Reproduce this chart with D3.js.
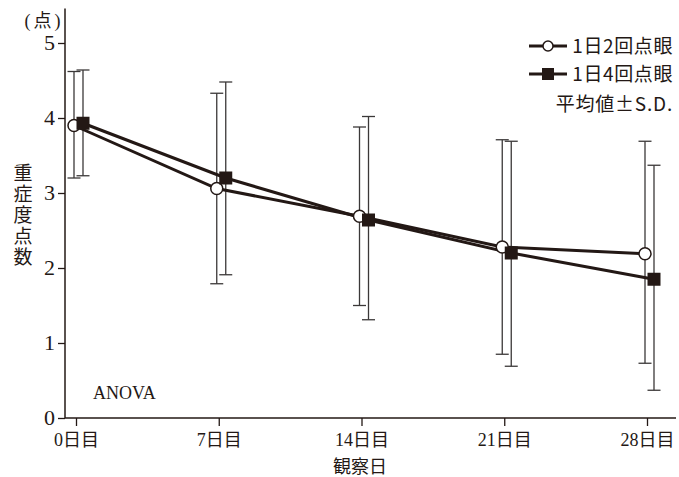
<!DOCTYPE html>
<html><head><meta charset="utf-8">
<script src="https://cdn.jsdelivr.net/npm/d3@7"></script>
<style>
html,body{margin:0;padding:0;background:#fff;}
svg{display:block;}
</style></head>
<body>
<svg id="chart" width="679" height="477"></svg>
<script>
// ---- data ----
const days = [0, 7, 14, 21, 28];
const dayLabels = ["0日目", "7日目", "14日目", "21日目", "28日目"];
const yTicks = [0, 1, 2, 3, 4, 5];
const seriesNames = ["1日2回点眼", "1日4回点眼"];
const mean2 = [3.90, 3.06, 2.69, 2.28, 2.19];
const upper2 = [4.62, 4.33, 3.88, 3.71, 3.69];
const lower2 = [3.20, 1.79, 1.50, 0.85, 0.73];
const mean4 = [3.93, 3.20, 2.64, 2.20, 1.85];
const upper4 = [4.64, 4.48, 4.02, 3.69, 3.37];
const lower4 = [3.23, 1.91, 1.31, 0.69, 0.37];

const ink = "#231815";
const barInk = "#3b3838";
const serif = "'Liberation Serif','Noto Sans CJK JP',serif";
const gothic = "'Noto Sans CJK JP','Noto Sans',sans-serif";

const svg = d3.select("#chart");
const x = d3.scaleLinear().domain([0, 28]).range([76, 647]);
const y = d3.scaleLinear().domain([0, 5]).range([418, 43]);
const axisX0 = 65;

// axes lines
svg.append("line").attr("x1", axisX0).attr("x2", axisX0)
  .attr("y1", y(5.46)).attr("y2", y(0))
  .attr("stroke", ink).attr("stroke-width", 1.5);
svg.append("line").attr("x1", axisX0).attr("x2", 676)
  .attr("y1", y(0)).attr("y2", y(0))
  .attr("stroke", ink).attr("stroke-width", 1.5);

// y axis
const gy = svg.append("g").attr("transform", `translate(${axisX0},0)`)
  .call(d3.axisLeft(y).tickValues(yTicks).tickSize(7).tickPadding(3).tickFormat(d3.format("d")));
gy.select(".domain").remove();
gy.attr("font-family", null).attr("font-size", null);
gy.selectAll(".tick line").attr("stroke", ink).attr("stroke-width", 1.3);
gy.selectAll(".tick text").style("font-family", serif).style("font-size", "22px")
  .attr("fill", ink).attr("dy", "0.3em");

// x axis
const gx = svg.append("g").attr("transform", `translate(0,${y(0)})`)
  .call(d3.axisBottom(x).tickValues(days).tickSize(8)
    .tickFormat((d, i) => dayLabels[i]));
gx.select(".domain").remove();
gx.attr("font-family", null).attr("font-size", null);
gx.selectAll(".tick line").attr("stroke", ink).attr("stroke-width", 1.3);
gx.selectAll(".tick text").style("font-family", serif).style("font-size", "18px")
  .attr("fill", ink).attr("y", 28).attr("dy", 0);

// unit label
svg.append("text").attr("x", 44).attr("y", 27).attr("text-anchor", "middle")
  .attr("font-family", serif).attr("font-size", 18).attr("letter-spacing", 3).attr("fill", ink)
  .text("(点)");

// y title (vertical)
svg.append("text").attr("x", 23).attr("y", 163)
  .attr("font-family", gothic).attr("font-size", 19).attr("fill", ink)
  .style("writing-mode", "vertical-rl").attr("letter-spacing", 2)
  .text("重症度点数");

// x title
svg.append("text").attr("x", 360).attr("y", 473).attr("text-anchor", "middle")
  .attr("font-family", gothic).attr("font-size", 18).attr("fill", ink)
  .text("観察日");

// ANOVA
svg.append("text").attr("x", 93).attr("y", 399)
  .attr("font-family", serif).attr("font-size", 18).attr("fill", ink)
  .text("ANOVA");

const off2 = -2, off4 = 7, cap = 6.5;

function errorBars(means, ups, lows, off) {
  const g = svg.append("g").attr("stroke", barInk).attr("stroke-width", 1.3).attr("fill", "none");
  days.forEach((d, i) => {
    const cx = x(d) + off;
    g.append("line").attr("x1", cx).attr("x2", cx).attr("y1", y(ups[i])).attr("y2", y(lows[i]));
    g.append("line").attr("x1", cx - cap).attr("x2", cx + cap).attr("y1", y(ups[i])).attr("y2", y(ups[i]));
    g.append("line").attr("x1", cx - cap).attr("x2", cx + cap).attr("y1", y(lows[i])).attr("y2", y(lows[i]));
  });
}
errorBars(mean2, upper2, lower2, off2);
errorBars(mean4, upper4, lower4, off4);

const line = (off) => d3.line().x((d, i) => x(days[i]) + off).y(d => y(d));
svg.append("path").datum(mean2).attr("d", line(off2))
  .attr("fill", "none").attr("stroke", ink).attr("stroke-width", 3);
svg.append("path").datum(mean4).attr("d", line(off4))
  .attr("fill", "none").attr("stroke", ink).attr("stroke-width", 3);

svg.append("g").selectAll("circle").data(mean2).join("circle")
  .attr("cx", (d, i) => x(days[i]) + off2).attr("cy", d => y(d)).attr("r", 6)
  .attr("fill", "#fff").attr("stroke", ink).attr("stroke-width", 1.5);
const sq = 13;
svg.append("g").selectAll("rect").data(mean4).join("rect")
  .attr("x", (d, i) => x(days[i]) + off4 - sq / 2).attr("y", d => y(d) - sq / 2)
  .attr("width", sq).attr("height", sq).attr("fill", ink);

// legend
const lg = svg.append("g");
const rows = [46, 74];
rows.forEach((ry, i) => {
  lg.append("line").attr("x1", 529).attr("x2", 567).attr("y1", ry).attr("y2", ry)
    .attr("stroke", ink).attr("stroke-width", 3);
  if (i === 0) {
    lg.append("circle").attr("cx", 548).attr("cy", ry).attr("r", 5)
      .attr("fill", "#fff").attr("stroke", ink).attr("stroke-width", 1.5);
  } else {
    lg.append("rect").attr("x", 548 - 6).attr("y", ry - 6).attr("width", 12).attr("height", 12).attr("fill", ink);
  }
  lg.append("text").attr("x", 673).attr("y", ry).attr("dy", "0.36em").attr("text-anchor", "end")
    .attr("font-family", gothic).attr("font-size", 19).attr("letter-spacing", 0.6).attr("fill", ink)
    .text(seriesNames[i]);
});
lg.append("text").attr("x", 673).attr("y", 104).attr("dy", "0.36em").attr("text-anchor", "end")
  .attr("font-family", gothic).attr("font-size", 19).attr("letter-spacing", 0.8).attr("fill", ink)
  .text("平均値±S.D.");
</script>
</body></html>
